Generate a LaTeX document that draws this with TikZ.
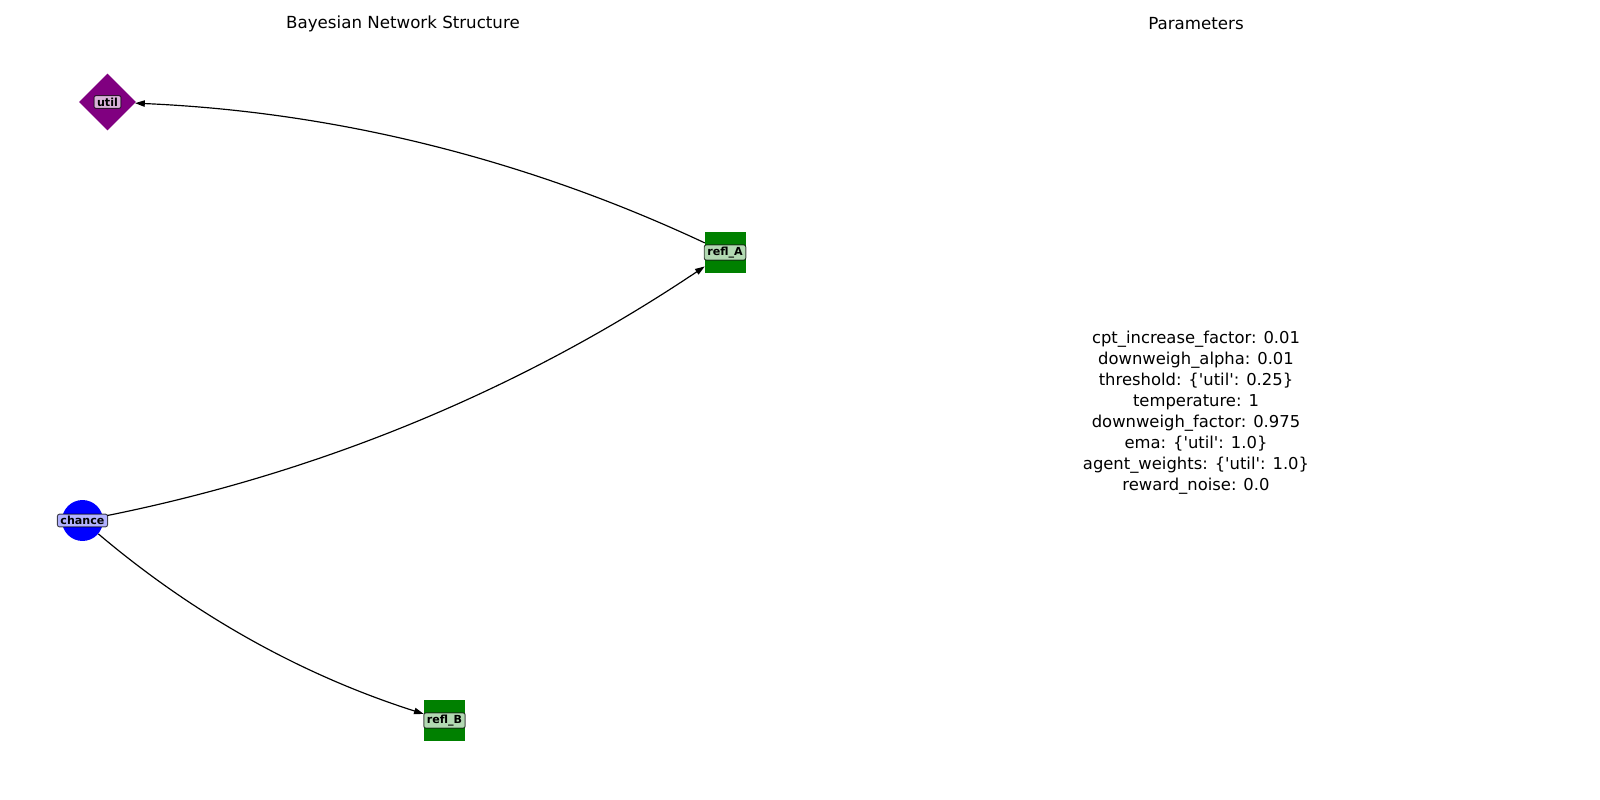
\documentclass[tikz,border=0pt]{standalone}
\usepackage{fontspec}
\setmainfont{DejaVu Sans}[Ligatures=TeXOff]
\usetikzlibrary{shapes.geometric,arrows.meta}
\definecolor{nodepurple}{RGB}{128,0,128}
\definecolor{nodegreen}{RGB}{0,128,0}
\definecolor{nodeblue}{RGB}{0,0,255}
\tikzset{
  utilnode/.style={diamond,fill=nodepurple,inner sep=0pt,minimum width=41pt,minimum height=41pt},
  reflnode/.style={rectangle,fill=nodegreen,inner sep=0pt,minimum size=29.5pt},
  chancenode/.style={circle,fill=nodeblue,inner sep=0pt,minimum size=29.5pt},
  tag/.style={draw=black,draw opacity=0.7,line width=0.7pt,rounded corners=1.5pt,
    fill=#1!30!white,font=\fontsize{8}{9}\selectfont\bfseries,inner xsep=2.2pt,inner ysep=1.5pt},
  edge/.style={line width=0.85pt,-{Triangle[length=7pt,width=4.6pt]},bend right=11.3,looseness=0.87},
  title/.style={font=\fontsize{12}{14}\selectfont}
}
\begin{document}
\begin{tikzpicture}[x=0.72pt,y=-0.72pt]
\useasboundingbox (0,0) rectangle (1600,800);
% titles
\node[title] (t1) at (403,23.5) {Bayesian Network Structure};
\node[title] (t2) at (1196,23.5) {Parameters};
% network nodes
\node[utilnode] (util) at (107.5,102) {};
\node[reflnode] (reflA) at (725.5,252.5) {};
\node[chancenode] (chance) at (82.5,520.5) {};
\node[reflnode] (reflB) at (444.5,720.5) {};
% edges
\draw[edge] (chance) to (reflA);
\draw[edge] (chance) to (reflB);
\draw[edge] (reflA) to (util);
% labels
\node[tag=nodepurple] (lutil) at (util) {util};
\node[tag=nodegreen] (lreflA) at (725,252.5) {refl\_A};
\node[tag=nodeblue] (lchance) at (chance) {chance};
\node[tag=nodegreen] (lreflB) at (444.5,720.5) {refl\_B};
% parameter list
\node[align=center,font=\fontsize{11.8}{15.1}\selectfont] (params) at (1196,412.5) {%
cpt\_increase\_factor: 0.01\\
downweigh\_alpha: 0.01\\
threshold: \{'util': 0.25\}\\
temperature: 1\\
downweigh\_factor: 0.975\\
ema: \{'util': 1.0\}\\
agent\_weights: \{'util': 1.0\}\\
reward\_noise: 0.0};
\end{tikzpicture}
\end{document}
